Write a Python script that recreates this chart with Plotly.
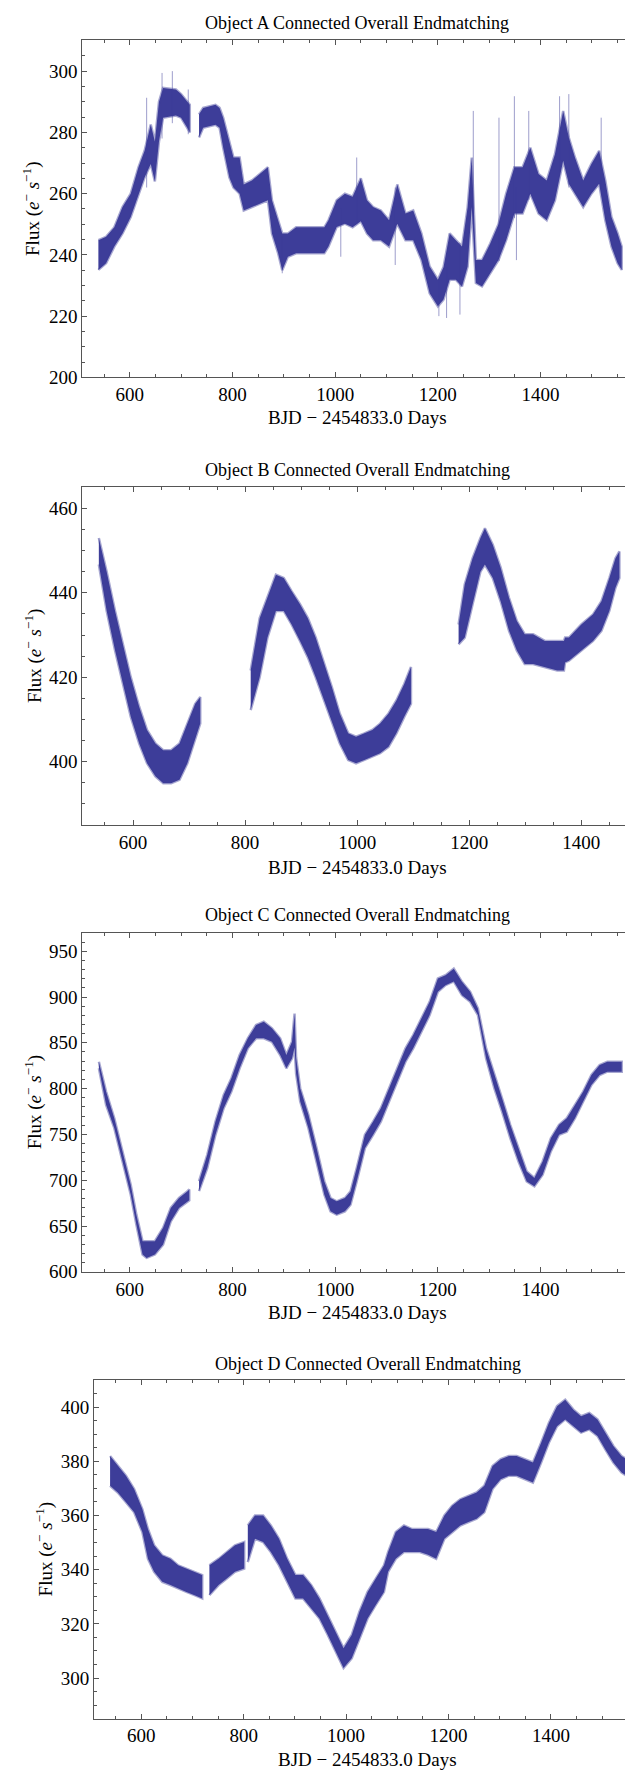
import plotly.graph_objects as go

# ---------------- Data (band lower / upper envelopes) ----------------
# Object A (two segments, gap ~718-734)
A1_x  = [539, 554, 570, 586, 602, 617, 629, 641, 649, 657, 665, 690, 700, 712, 717]
A1_lo = [235.1, 237.3, 242.7, 247.0, 252.4, 260.0, 265.3, 269.7, 264.0, 277.0, 284.8, 285.5, 284.8, 281.5, 280.0]
A1_hi = [244.8, 245.9, 249.0, 255.6, 260.0, 268.6, 274.0, 282.6, 277.0, 290.0, 294.5, 294.0, 292.5, 290.0, 289.0]
A2_x  = [735, 743, 767, 775, 782, 794, 802, 814, 822, 838, 853, 869, 877, 889, 897, 908, 924, 950, 964, 979,
         987, 1003, 1019, 1034, 1050, 1062, 1074, 1089, 1105, 1121, 1137, 1152, 1168, 1184, 1200, 1211, 1223,
         1235, 1247, 1258, 1266, 1274, 1286, 1302, 1318, 1333, 1349, 1365, 1380, 1396, 1412, 1428, 1444, 1455,
         1467, 1483, 1499, 1514, 1526, 1538, 1550, 1558]
A2_lo = [278.3, 281.5, 282.5, 281.5, 275.0, 265.3, 262.0, 260.0, 254.5, 255.6, 256.7, 257.8, 247.0, 240.5, 235.0, 239.4, 240.5, 240.5, 240.5, 240.5,
         242.7, 249.1, 250.2, 249.0, 251.0, 247.0, 244.8, 244.8, 242.7, 250.2, 244.8, 244.8, 238.3, 227.5, 223.2, 225.4, 231.9,
         231.9, 229.7, 236.2, 255.6, 230.8, 229.7, 234.0, 238.3, 244.8, 253.5, 253.5, 260.0, 253.5, 251.3, 257.8, 270.7, 263.2,
         260.0, 255.6, 260.0, 263.2, 251.3, 242.7, 237.3, 235.1]
A2_hi = [285.9, 288.0, 289.0, 288.0, 284.8, 277.0, 271.8, 271.8, 263.0, 264.3, 266.4, 268.6, 257.8, 251.3, 247.0, 247.0, 249.0, 249.0, 249.0, 249.0,
         251.3, 257.8, 260.0, 259.0, 265.0, 257.8, 255.6, 254.5, 251.3, 263.0, 253.5, 254.5, 247.0, 236.2, 231.9, 236.0, 247.0,
         244.8, 242.7, 255.6, 271.8, 238.3, 238.3, 243.7, 250.0, 260.0, 268.6, 268.6, 275.0, 266.4, 264.3, 272.9, 287.0, 278.3,
         271.8, 264.3, 269.7, 274.0, 264.3, 252.4, 247.0, 242.7]
A_spike_x  = [633, 663, 683, 714, 897, 1011, 1042, 1117, 1202, 1217, 1243, 1269, 1319, 1349, 1353, 1377, 1437, 1455, 1518]
A_spike_lo = [262.0, 278.0, 283.0, 279.4, 234.0, 239.4, 250.0, 236.7, 220.0, 219.4, 220.5, 250.0, 238.0, 252.0, 238.3, 258.0, 266.0, 262.0, 262.0]
A_spike_hi = [291.3, 299.4, 300.0, 294.0, 246.0, 255.0, 271.8, 262.0, 232.0, 236.0, 244.0, 287.0, 284.8, 291.8, 262.0, 287.0, 291.8, 292.5, 284.8]

# Object B (three segments)
B1_x  = [539, 553, 568, 582, 596, 611, 625, 640, 654, 668, 683, 697, 711, 720]
B1_lo = [446.7, 435.7, 426.3, 418.4, 410.6, 404.3, 399.6, 396.5, 394.9, 394.9, 395.7, 399.6, 405.1, 409.0]
B1_hi = [453.0, 445.0, 435.7, 427.8, 420.0, 413.0, 407.5, 404.3, 402.7, 402.7, 404.3, 409.0, 413.7, 415.3]
B2_x  = [810, 826, 840, 855, 869, 883, 898, 912, 926, 941, 955, 969, 984, 998, 1013, 1027, 1041, 1056, 1070, 1084, 1096]
B2_lo = [412.2, 420.0, 429.4, 435.7, 435.7, 432.5, 428.6, 424.7, 420.0, 414.5, 409.8, 404.3, 400.4, 399.6, 400.4, 401.2, 402.0, 403.5, 406.7, 410.6, 413.7]
B2_hi = [421.6, 434.0, 438.8, 444.3, 443.5, 440.4, 437.3, 434.0, 429.4, 423.1, 417.6, 411.4, 406.7, 405.9, 406.7, 407.5, 409.0, 411.4, 414.5, 418.4, 422.4]
B3_x  = [1181, 1192, 1206, 1220, 1228, 1242, 1256, 1271, 1285, 1299, 1314, 1335, 1357, 1369, 1371, 1378, 1400, 1421, 1436, 1450, 1461, 1468]
B3_lo = [427.8, 429.4, 437.3, 445.0, 446.7, 443.5, 438.0, 431.0, 426.3, 423.1, 423.1, 422.4, 421.6, 421.6, 423.5, 423.9, 426.3, 428.6, 431.0, 435.7, 441.2, 443.5]
B3_hi = [432.5, 442.0, 448.2, 453.0, 455.3, 451.4, 446.0, 438.8, 433.3, 430.2, 430.2, 428.6, 428.6, 428.6, 429.4, 429.4, 432.5, 434.9, 438.0, 443.5, 448.2, 449.8]

# Object C (two segments, gap ~716-734)
C1_x  = [540, 554, 570, 586, 602, 613, 625, 633, 649, 665, 680, 696, 712, 716]
C1_lo = [822.2, 782.3, 756.8, 720.5, 684.2, 651.5, 618.9, 615.2, 618.9, 629.8, 655.0, 669.7, 677.0, 678.0]
C1_hi = [829.4, 796.8, 767.7, 731.4, 695.0, 662.4, 633.4, 633.4, 633.4, 648.0, 669.7, 680.6, 687.8, 690.0]
C2_x  = [735, 751, 767, 783, 798, 814, 830, 846, 861, 877, 893, 905, 916, 921, 924, 932, 948, 964, 979, 991,
         1003, 1019, 1030, 1042, 1058, 1074, 1089, 1105, 1121, 1137, 1152, 1168, 1184, 1200, 1215, 1231, 1247,
         1263, 1278, 1294, 1310, 1325, 1341, 1357, 1373, 1388, 1404, 1420, 1436, 1451, 1467, 1483, 1499, 1515,
         1530, 1558]
C2_lo = [688.0, 713.3, 749.6, 778.6, 796.8, 822.2, 844.0, 854.9, 854.9, 851.2, 836.7, 822.2, 833.0, 845.0, 816.0, 785.9, 756.8, 720.5, 684.2, 666.0,
         662.4, 666.0, 673.3, 698.7, 735.0, 749.6, 764.0, 785.9, 807.7, 829.4, 844.0, 862.1, 880.3, 905.7, 913.0, 917.0, 902.0,
         894.8, 880.3, 833.0, 800.4, 775.0, 746.0, 720.5, 698.7, 693.3, 706.0, 731.4, 749.6, 753.0, 767.7, 785.9, 804.0, 814.9,
         818.5, 818.5]
C2_hi = [699.0, 727.8, 764.0, 793.0, 811.3, 836.7, 854.9, 869.4, 873.0, 865.8, 854.9, 836.7, 851.2, 882.0, 834.0, 800.4, 771.4, 735.0, 698.7, 680.6,
         677.0, 680.6, 687.8, 713.3, 749.6, 764.0, 778.6, 800.4, 822.2, 843.9, 858.5, 876.7, 894.8, 920.2, 923.9, 931.0, 916.6,
         905.7, 887.5, 843.9, 815.0, 789.5, 760.5, 735.0, 709.6, 702.4, 720.5, 745.9, 760.5, 767.7, 782.2, 796.8, 815.0, 825.8,
         829.4, 829.4]

# Object D (three segments)
D1_x  = [539, 554, 570, 586, 602, 613, 625, 641, 657, 672, 688, 704, 719]
D1_lo = [371.0, 368.5, 364.9, 361.2, 353.9, 344.0, 339.2, 335.5, 334.3, 333.0, 331.8, 330.6, 329.4]
D1_hi = [382.0, 378.3, 374.7, 369.8, 362.4, 355.0, 349.0, 345.3, 344.0, 341.6, 340.4, 339.2, 338.0]
D2_x  = [733, 751, 767, 783, 801]
D2_lo = [330.6, 334.3, 336.7, 339.2, 340.4]
D2_hi = [341.6, 344.0, 346.5, 349.0, 350.2]
D3_x  = [808, 822, 838, 853, 869, 885, 901, 916, 932, 948, 964, 979, 995, 1011, 1026, 1042, 1058, 1074, 1082,
         1097, 1113, 1129, 1144, 1160, 1176, 1192, 1207, 1223, 1239, 1255, 1270, 1286, 1302, 1318, 1333, 1349,
         1365, 1381, 1396, 1412, 1428, 1444, 1459, 1475, 1491, 1506, 1522, 1538, 1558]
D3_lo = [342.8, 351.4, 350.2, 346.5, 341.6, 335.5, 329.4, 329.4, 325.7, 322.0, 316.0, 309.8, 303.7, 307.3, 314.7, 322.0, 327.0, 331.8, 339.2,
         344.0, 346.5, 346.5, 346.5, 345.5, 344.0, 351.4, 353.9, 356.3, 357.6, 358.8, 361.2, 369.8, 373.4, 374.7, 374.7, 373.4,
         372.2, 379.6, 386.9, 393.0, 395.5, 393.0, 390.6, 391.8, 389.4, 384.5, 379.6, 375.9, 373.4]
D3_hi = [356.3, 360.0, 360.0, 356.3, 351.4, 344.0, 338.0, 338.0, 334.3, 329.4, 323.3, 317.1, 311.0, 315.9, 324.5, 331.8, 336.7, 341.6, 346.5,
         353.9, 356.3, 355.0, 355.0, 355.0, 353.9, 360.0, 363.6, 366.0, 367.3, 368.5, 371.0, 378.3, 380.8, 382.0, 382.0, 380.8,
         379.6, 386.9, 394.2, 400.4, 402.8, 399.1, 396.7, 397.9, 395.5, 390.6, 385.7, 382.0, 379.6]

X_TICKS = [600, 800, 1000, 1200, 1400]
A_YTICKS = [200, 220, 240, 260, 280, 300]
B_YTICKS = [400, 420, 440, 460]
C_YTICKS = [600, 650, 700, 750, 800, 850, 900, 950]
D_YTICKS = [300, 320, 340, 360, 380, 400]

TITLES = ["Object A Connected Overall Endmatching", "Object B Connected Overall Endmatching",
          "Object C Connected Overall Endmatching", "Object D Connected Overall Endmatching"]
XLABEL = "BJD \u2212 2454833.0 Days"
YLABEL = "Flux (<i>e</i><sup>\u2212</sup> <i>s</i><sup>\u22121</sup>)"

# ---------------- Layout geometry (pixels) ----------------
W, H = 633, 1773
FONT = "Liberation Serif, Times New Roman, serif"
COL = "#3d3d99"
EDGE = "rgba(61,61,153,0.45)"
SPIKE = "rgba(61,61,153,0.5)"
AX = "#555555"

panels = [
    ([(A1_x, A1_lo, A1_hi), (A2_x, A2_lo, A2_hi)], [507.7, 1578.6], [200, 310], A_YTICKS, 5, 74.3, 624.3, 32.7, 371.7, True),
    ([(B1_x, B1_lo, B1_hi), (B2_x, B2_lo, B2_hi), (B3_x, B3_lo, B3_hi)], [509.5, 1491], [385, 465], B_YTICKS, 5, 74.3, 624.3, 482.3, 822.0, True),
    ([(C1_x, C1_lo, C1_hi), (C2_x, C2_lo, C2_hi)], [507.7, 1578.6], [600, 970], C_YTICKS, 10, 74.3, 624.3, 930.7, 1271.7, True),
    ([(D1_x, D1_lo, D1_hi), (D2_x, D2_lo, D2_hi), (D3_x, D3_lo, D3_hi)], [507.6, 1576.0], [285, 410], D_YTICKS, 5, 86.0, 633.0, 1380.7, 1721.3, False),
]
title_y = [15, 465, 913, 1364.3]
xlab_y = [412, 865, 1313, 1762.7]
ylab_x = [24, 25, 25, 36]

fig = go.Figure()
annotations = []
layout_axes = {}
for i, (segs, xr, yr, yt, ymin, L, R, T, B, rline) in enumerate(panels):
    n = "" if i == 0 else str(i + 1)
    xa, ya = "x" + n, "y" + n
    for (xs, lo, hi) in segs:
        fig.add_trace(go.Scatter(
            x=list(xs) + list(xs)[::-1], y=list(lo) + list(hi)[::-1],
            fill="toself", fillcolor=COL, mode="lines",
            line=dict(color=EDGE, width=2.5), xaxis=xa, yaxis=ya,
            hoverinfo="skip", showlegend=False))
    if i == 0:
        for sx, slo, shi in zip(A_spike_x, A_spike_lo, A_spike_hi):
            fig.add_trace(go.Scatter(x=[sx, sx], y=[slo, shi], mode="lines",
                                     line=dict(color=SPIKE, width=1), xaxis=xa, yaxis=ya,
                                     hoverinfo="skip", showlegend=False))
    xd = [L / W, min(R / W, 1.0)]
    yd = [1 - B / H, 1 - T / H]
    layout_axes["xaxis" + n] = dict(
        domain=xd, range=xr, anchor=ya, tickvals=X_TICKS, ticks="inside", ticklen=5, tickwidth=1,
        tickcolor=AX, showline=True, linecolor=AX, linewidth=1, mirror="ticks",
        minor=dict(dtick=50, tick0=0, ticks="inside", ticklen=3, tickcolor=AX, showgrid=False),
        showgrid=False, zeroline=False, tickfont=dict(family=FONT, size=19, color="black"))
    layout_axes["yaxis" + n] = dict(
        domain=yd, range=yr, anchor=xa, tickvals=yt, ticks="inside", ticklen=5, tickwidth=1,
        tickcolor=AX, showline=True, linecolor=AX, linewidth=1, mirror=("ticks" if rline else False),
        minor=dict(dtick=ymin, tick0=0, ticks="inside", ticklen=3, tickcolor=AX, showgrid=False),
        showgrid=False, zeroline=False, tickfont=dict(family=FONT, size=19, color="black"))
    cx = (L + R) / 2 / W
    annotations.append(dict(text=TITLES[i], x=cx, y=1 - title_y[i] / H, xref="paper", yref="paper",
                            showarrow=False, xanchor="center", yanchor="middle",
                            font=dict(family=FONT, size=18, color="black")))
    annotations.append(dict(text=XLABEL, x=cx, y=1 - xlab_y[i] / H, xref="paper", yref="paper",
                            showarrow=False, xanchor="center", yanchor="middle",
                            font=dict(family=FONT, size=19, color="black")))
    annotations.append(dict(text=YLABEL, x=ylab_x[i] / W, y=1 - (T + B) / 2 / H, xref="paper", yref="paper",
                            showarrow=False, xanchor="center", yanchor="middle", textangle=-90,
                            font=dict(family=FONT, size=19, color="black")))

fig.update_layout(width=W, height=H, margin=dict(l=0, r=0, t=0, b=0),
                  paper_bgcolor="white", plot_bgcolor="white", annotations=annotations,
                  **layout_axes)
fig.write_html("out.html")
